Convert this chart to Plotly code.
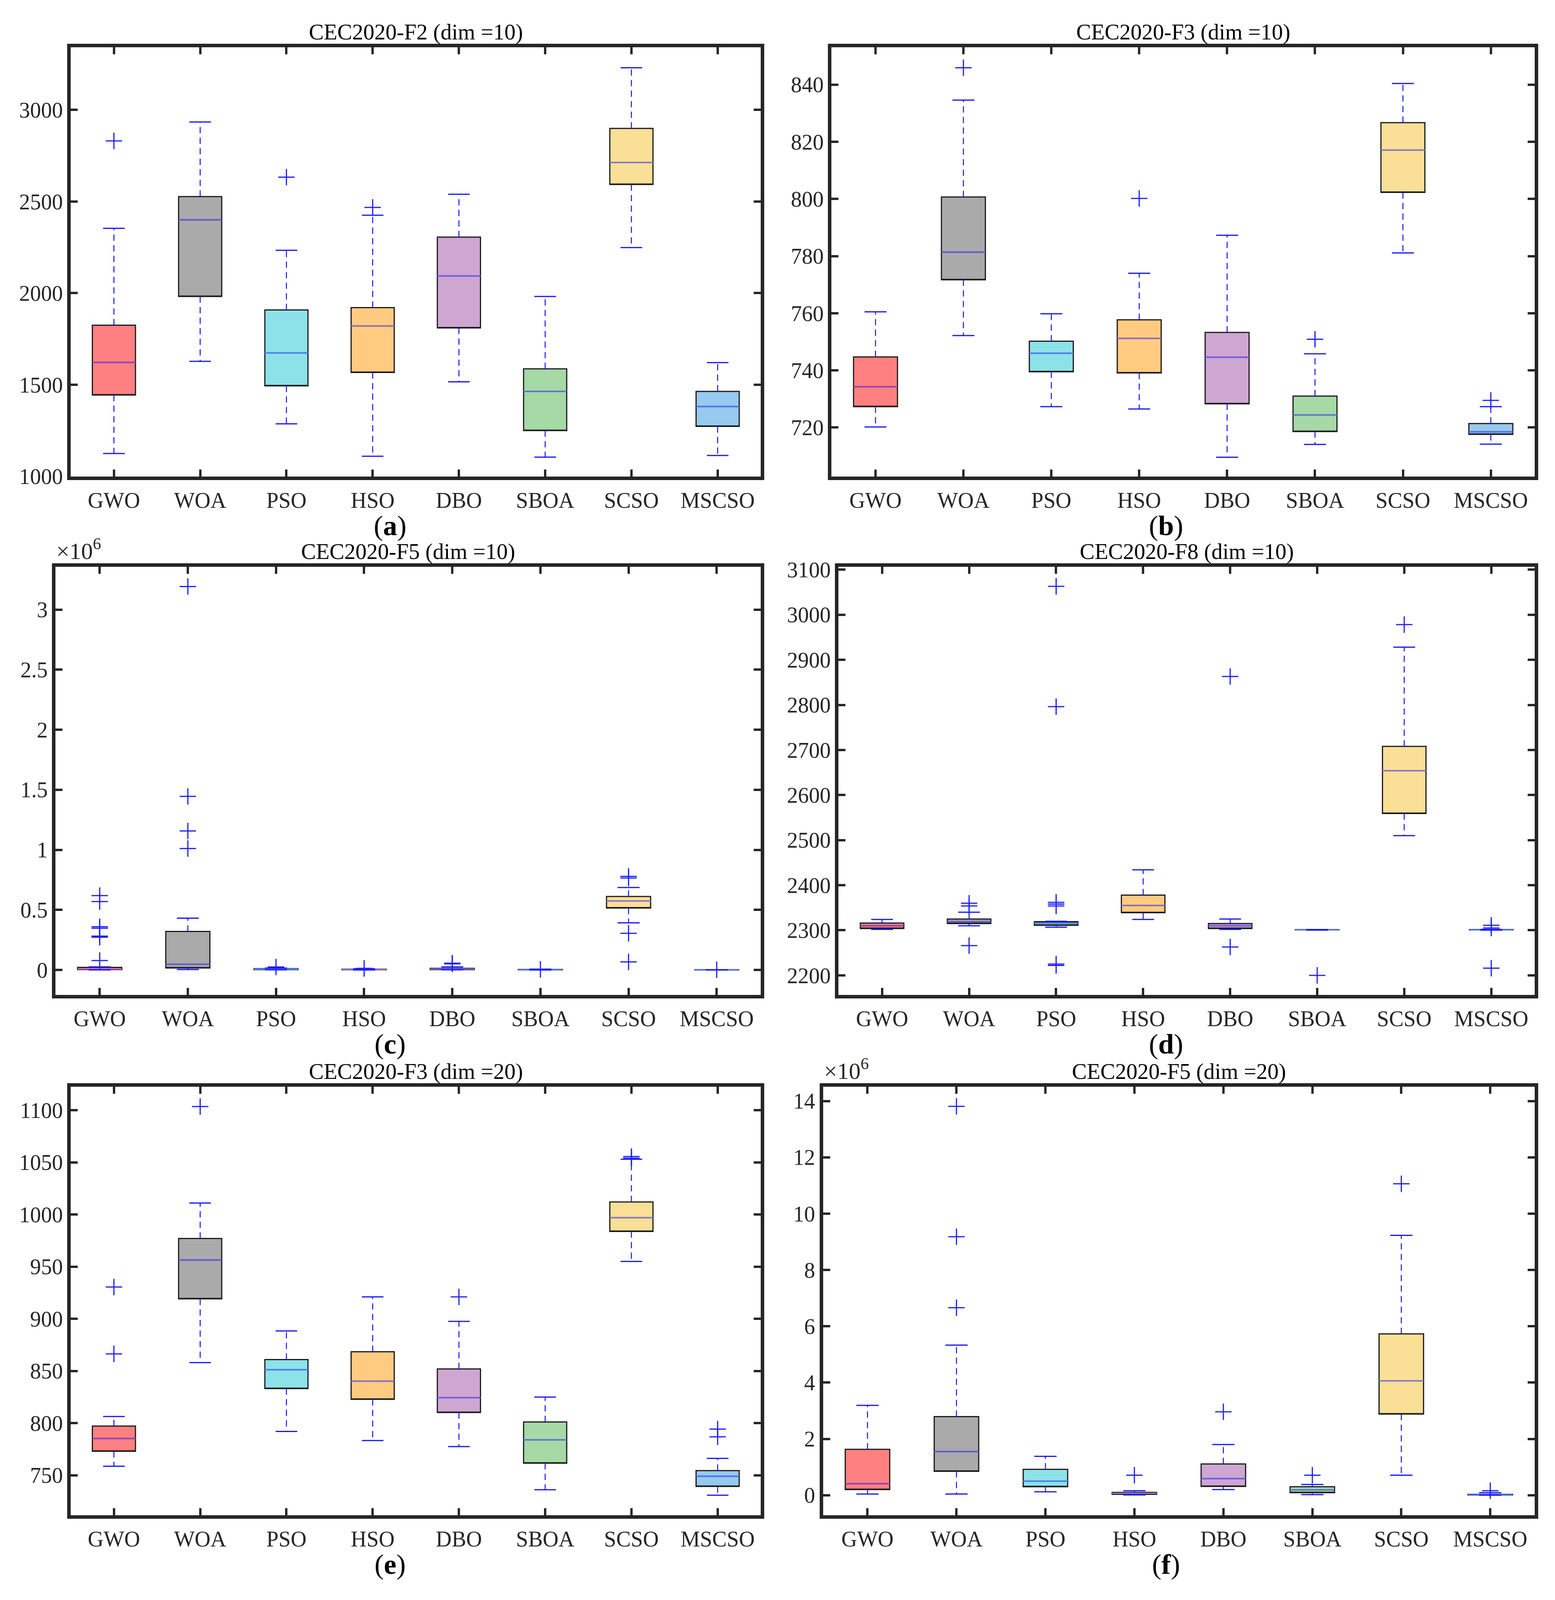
import plotly.graph_objects as go

# reference page is 3982 x 4653; positions below are given in those pixels
# and converted to paper fractions. The page itself is drawn a bit shorter
# so that it fits the visible window.
W, H = 3982, 4653
FIG_W, FIG_H = 3966, 4080
FONT = "Liberation Serif"
INK = "#262626"

names = ["GWO", "WOA", "PSO", "HSO", "DBO", "SBOA", "SCSO", "MSCSO"]
fills = [(255, 128, 128), (170, 170, 170), (140, 226, 232), (255, 203, 128),
         (206, 166, 210), (166, 217, 166), (250, 223, 150), (150, 202, 238)]

# (a) CEC2020-F2 dim 10
a_lo = [1125, 1628, 1287, 1110, 1516, 1105, 2249, 1114]
a_q1 = [1444, 1982, 1494, 1567, 1810, 1250, 2593, 1273]
a_med = [1622, 2400, 1674, 1821, 2094, 1464, 2713, 1381]
a_q3 = [1825, 2527, 1908, 1921, 2306, 1587, 2899, 1464]
a_hi = [2354, 2934, 2234, 2425, 2540, 1982, 3230, 1621]
a_out = [[2831], [], [2633], [2468], [], [], [], []]

# (b) CEC2020-F3 dim 10
b_lo = [720.2, 752.2, 727.3, 726.5, 709.6, 714.1, 781.1, 714.2]
b_q1 = [727.3, 771.7, 739.5, 739.1, 728.3, 718.6, 802.3, 717.6]
b_med = [734.3, 781.4, 746.0, 751.2, 744.6, 724.4, 817.1, 718.5]
b_q3 = [744.7, 800.7, 750.2, 757.7, 753.3, 731.0, 826.7, 721.4]
b_hi = [760.5, 834.6, 759.8, 774.0, 787.3, 745.8, 840.4, 727.3]
b_out = [[], [845.9], [], [800.2], [], [750.9], [], [729.5]]

# (c) CEC2020-F5 dim 10, values in 1e6
c_lo = [0.0, 0.003, 0.0005, 0.0, 0.0005, 0.0, 0.392, 0.0]
c_q1 = [0.001, 0.016, 0.002, 0.0005, 0.002, 0.0005, 0.515, 0.0002]
c_med = [0.003, 0.047, 0.006, 0.003, 0.007, 0.002, 0.574, 0.0004]
c_q3 = [0.021, 0.32, 0.010, 0.006, 0.013, 0.004, 0.611, 0.0007]
c_hi = [0.025, 0.431, 0.015, 0.009, 0.025, 0.006, 0.686, 0.001]
c_out = [[0.619, 0.569, 0.359, 0.347, 0.281, 0.272, 0.078],
         [3.193, 1.445, 1.157, 1.011], [0.024], [0.013], [0.05, 0.056],
         [0.004], [0.779, 0.765, 0.305, 0.066], [0.001]]

# (d) CEC2020-F8 dim 10
d_lo = [2302, 2310, 2307, 2324, 2302, 2300.5, 2510, 2300.5]
d_q1 = [2304, 2315, 2311, 2339, 2304, 2300.8, 2559, 2300.8]
d_med = [2310, 2319, 2316, 2355, 2310, 2301, 2654, 2301]
d_q3 = [2316, 2325, 2319, 2378, 2315, 2301.3, 2708, 2301.5]
d_hi = [2324, 2340, 2320, 2434, 2325, 2301.5, 2928, 2302]
d_out = [[], [2360, 2354, 2266], [3063, 2796, 2362, 2358, 2354, 2225, 2222], [],
         [2863, 2263], [2200], [2978], [2311, 2305, 2216]]

# (e) CEC2020-F3 dim 20
e_lo = [758.7, 858.0, 792.0, 783.3, 777.5, 736.1, 955.0, 730.9]
e_q1 = [773.0, 919.2, 833.1, 822.8, 810.2, 761.6, 983.8, 739.3]
e_med = [785.3, 956.3, 851.2, 840.2, 824.4, 784.0, 997.0, 749.0]
e_q3 = [797.2, 977.0, 860.9, 868.4, 851.9, 801.1, 1012.0, 754.5]
e_hi = [806.3, 1011.0, 888.4, 921.0, 897.5, 825.0, 1053.0, 766.2]
e_out = [[930.5, 866.4], [1103.5], [], [], [921.0], [], [1055.6, 1054.0], [794.3, 786.9]]

# (f) CEC2020-F5 dim 20, values in 1e6
f_lo = [0.04, 0.04, 0.12, 0.01, 0.20, 0.02, 0.71, 0.0]
f_q1 = [0.20, 0.85, 0.30, 0.03, 0.31, 0.09, 2.88, 0.005]
f_med = [0.41, 1.55, 0.50, 0.07, 0.59, 0.19, 4.06, 0.015]
f_q3 = [1.63, 2.79, 0.92, 0.10, 1.11, 0.30, 5.73, 0.03]
f_hi = [3.19, 5.33, 1.38, 0.16, 1.80, 0.38, 9.23, 0.09]
f_out = [[], [13.81, 9.18, 6.66], [], [0.71], [2.96], [0.71], [11.06], [0.16]]

# layout of each panel, in reference pixels: x0, x1, y0 (top), y1 (bottom)
panels = [
    dict(title="CEC2020-F2 (dim =10)", tag="a", lo=a_lo, q1=a_q1, med=a_med, q3=a_q3, hi=a_hi, out=a_out,
         box=(174, 1948, 104, 1374), yr=[1000, 3342], dtick=500, tick0=1000, exp=False),
    dict(title="CEC2020-F3 (dim =10)", tag="b", lo=b_lo, q1=b_q1, med=b_med, q3=b_q3, hi=b_hi, out=b_out,
         box=(2130, 3938, 104, 1374), yr=[702.9, 853.1], dtick=20, tick0=720, exp=False),
    dict(title="CEC2020-F5 (dim =10)", tag="c", lo=c_lo, q1=c_q1, med=c_med, q3=c_q3, hi=c_hi, out=c_out,
         box=(135, 1948, 1642, 2908), yr=[-0.207, 3.356], dtick=0.5, tick0=0, exp=True),
    dict(title="CEC2020-F8 (dim =10)", tag="d", lo=d_lo, q1=d_q1, med=d_med, q3=d_q3, hi=d_hi, out=d_out,
         box=(2148, 3938, 1642, 2908), yr=[2157, 3106], dtick=100, tick0=2200, exp=False),
    dict(title="CEC2020-F3 (dim =20)", tag="e", lo=e_lo, q1=e_q1, med=e_med, q3=e_q3, hi=e_hi, out=e_out,
         box=(174, 1948, 3180, 4448), yr=[711.8, 1122.6], dtick=50, tick0=750, exp=False),
    dict(title="CEC2020-F5 (dim =20)", tag="f", lo=f_lo, q1=f_q1, med=f_med, q3=f_q3, hi=f_hi, out=f_out,
         box=(2108, 3938, 3180, 4448), yr=[-0.707, 14.51], dtick=2, tick0=0, exp=True),
]


def rgb(c):
    return "rgb(%d,%d,%d)" % c


def mix(c, k=0.45):
    # median line: blue seen through the box fill
    return rgb(tuple(int(v * (1 - k) + b * k) for v, b in zip(c, (0, 0, 255))))


fig = go.Figure()
annotations = []
pos = list(range(1, len(names) + 1))

for k, p in enumerate(panels):
    sfx = "" if k == 0 else str(k + 1)
    xr, yr = "x" + sfx, "y" + sfx
    x0, x1, y0, y1 = p["box"]

    for i, n in enumerate(names):
        fig.add_trace(go.Box(
            x=[pos[i]], q1=[p["q1"][i]], median=[p["q1"][i]], q3=[p["q3"][i]],
            lowerfence=[p["q1"][i]], upperfence=[p["q3"][i]],
            width=0.5, whiskerwidth=0, boxpoints=False, name=n,
            fillcolor=rgb(fills[i]), line=dict(color="#1a1a1a", width=3),
            xaxis=xr, yaxis=yr, showlegend=False, hoverinfo="skip"))

    wx, wy, cx, cy, ox, oy = [], [], [], [], [], []
    for i, c in enumerate(pos):
        wx += [c, c, None, c, c, None]
        wy += [p["q3"][i], p["hi"][i], None, p["q1"][i], p["lo"][i], None]
        cx += [c - 0.125, c + 0.125, None, c - 0.125, c + 0.125, None]
        cy += [p["hi"][i], p["hi"][i], None, p["lo"][i], p["lo"][i], None]
        ox += [c] * len(p["out"][i])
        oy += p["out"][i]
        fig.add_trace(go.Scatter(
            x=[c - 0.25, c + 0.25], y=[p["med"][i]] * 2, mode="lines",
            line=dict(color=mix(fills[i]), width=4),
            xaxis=xr, yaxis=yr, showlegend=False, hoverinfo="skip"))

    fig.add_trace(go.Scatter(x=wx, y=wy, mode="lines",
                             line=dict(color="rgb(20,20,255)", width=2.5, dash="16px,11px"),
                             xaxis=xr, yaxis=yr, showlegend=False, hoverinfo="skip"))
    fig.add_trace(go.Scatter(x=cx, y=cy, mode="lines",
                             line=dict(color="rgb(20,20,255)", width=3),
                             xaxis=xr, yaxis=yr, showlegend=False, hoverinfo="skip"))
    fig.add_trace(go.Scatter(x=ox, y=oy, mode="markers",
                             marker=dict(symbol="cross-thin", size=30,
                                         line=dict(color="rgb(30,30,255)", width=3)),
                             xaxis=xr, yaxis=yr, showlegend=False, hoverinfo="skip"))

    common = dict(showline=True, linewidth=9, linecolor=INK, mirror="ticks",
                  ticks="inside", ticklen=18, tickwidth=6, tickcolor=INK,
                  showgrid=False, zeroline=False,
                  tickfont=dict(family=FONT, size=56, color=INK))
    fig.update_layout(**{
        "xaxis" + sfx: dict(common, domain=[x0 / W, x1 / W], anchor=yr, range=[0.5, 8.5],
                            tickvals=pos, ticktext=names, ticklabelstandoff=4),
        "yaxis" + sfx: dict(common, domain=[1 - y1 / H, 1 - y0 / H], anchor=xr, range=p["yr"],
                            tick0=p["tick0"], dtick=p["dtick"], ticklabelstandoff=0),
    })

    annotations.append(dict(text=p["title"], x=(x0 + x1) / 2 / W, y=1 - (y0 - 6) / H,
                            xref="paper", yref="paper", xanchor="center", yanchor="bottom",
                            showarrow=False, font=dict(family=FONT, size=57, color="black")))
    colc = 995 if x0 < W / 2 else 2990
    annotations.append(dict(text="(<b>%s</b>)" % p["tag"], x=colc / W, y=1 - (y1 + 146) / H,
                            xref="paper", yref="paper", xanchor="center", yanchor="middle",
                            showarrow=False, font=dict(family=FONT, size=72, color="black")))
    if p["exp"]:
        annotations.append(dict(text="×10<sup>6</sup>", x=x0 / W, y=1 - (y0 - 6) / H,
                                xref="paper", yref="paper", xanchor="left", yanchor="bottom",
                                showarrow=False, font=dict(family=FONT, size=60, color=INK)))

fig.update_layout(width=FIG_W, height=FIG_H, margin=dict(l=0, r=0, t=0, b=0),
                  paper_bgcolor="white", plot_bgcolor="white",
                  boxmode="overlay", annotations=annotations)

fig.write_html("out.html")
